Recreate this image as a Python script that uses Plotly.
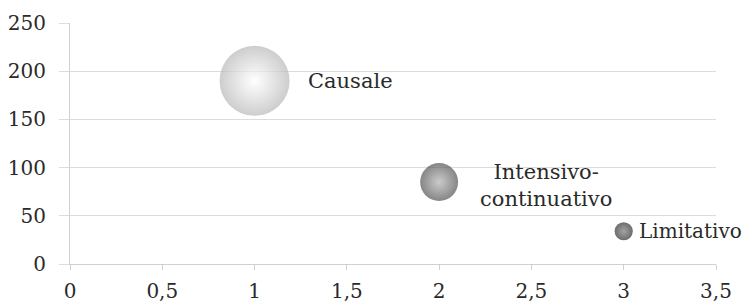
import plotly.graph_objects as go

categories = ["Causale", "Intensivo-<br>continuativo", "Limitativo"]
x_values = [1, 2, 3]
y_values = [190, 85, 34]
bubble_sizes = [49, 14.4, 3.3]
x_ticks = [0, 0.5, 1, 1.5, 2, 2.5, 3, 3.5]
y_ticks = [0, 50, 100, 150, 200, 250]

centre_colors = ["#ffffff", "#b4b4b4", "#7a7a7a"]
edge_colors = ["#b8b8b8", "#525252", "#2e2e2e"]
sizeref = 0.02
serif = "DejaVu Serif"

fig = go.Figure()
for i in range(len(categories)):
    fig.add_trace(go.Scatter(
        x=[x_values[i]], y=[y_values[i]], mode="markers",
        marker=dict(size=[bubble_sizes[i]], sizemode="area", sizeref=sizeref,
                    color=edge_colors[i],
                    gradient=dict(type="radial", color=centre_colors[i]),
                    line=dict(width=0)),
        showlegend=False, hoverinfo="skip"))

gaps = [16, 20, 4]
yshifts = [0, -3, 0]
font_sizes = [21, 21, 20]
for i, c in enumerate(categories):
    r = (2 * bubble_sizes[i] / sizeref) ** 0.5 / 2
    fig.add_annotation(x=x_values[i], y=y_values[i], text=c, showarrow=False,
                       xanchor="left", yanchor="middle", align="center",
                       xshift=r + gaps[i], yshift=yshifts[i],
                       font=dict(family=serif, size=font_sizes[i], color="#2a2a2a"))

# the page body adds an 8px offset, so the figure is slightly smaller than the window
fig.update_layout(
    width=743, height=299,
    margin=dict(l=62, r=35, t=15, b=43),
    paper_bgcolor="white", plot_bgcolor="white",
    separators=", ",
    font=dict(family=serif, size=20, color="#2a2a2a"),
    xaxis=dict(range=[0, 3.5], tickvals=x_ticks, showgrid=False, zeroline=False,
               showline=True, linecolor="#d0d0d0", linewidth=1, automargin=False,
               ticks="outside", ticklen=5, tickcolor="#d0d0d0", ticklabelstandoff=4),
    yaxis=dict(range=[0, 250], tickvals=y_ticks, showgrid=True, gridcolor="#dcdcdc",
               zeroline=False, showline=True, linecolor="#d0d0d0", linewidth=1,
               automargin=False,
               ticks="outside", ticklen=10, tickcolor="#dcdcdc", ticklabelstandoff=9),
)

fig.write_html("out.html")
